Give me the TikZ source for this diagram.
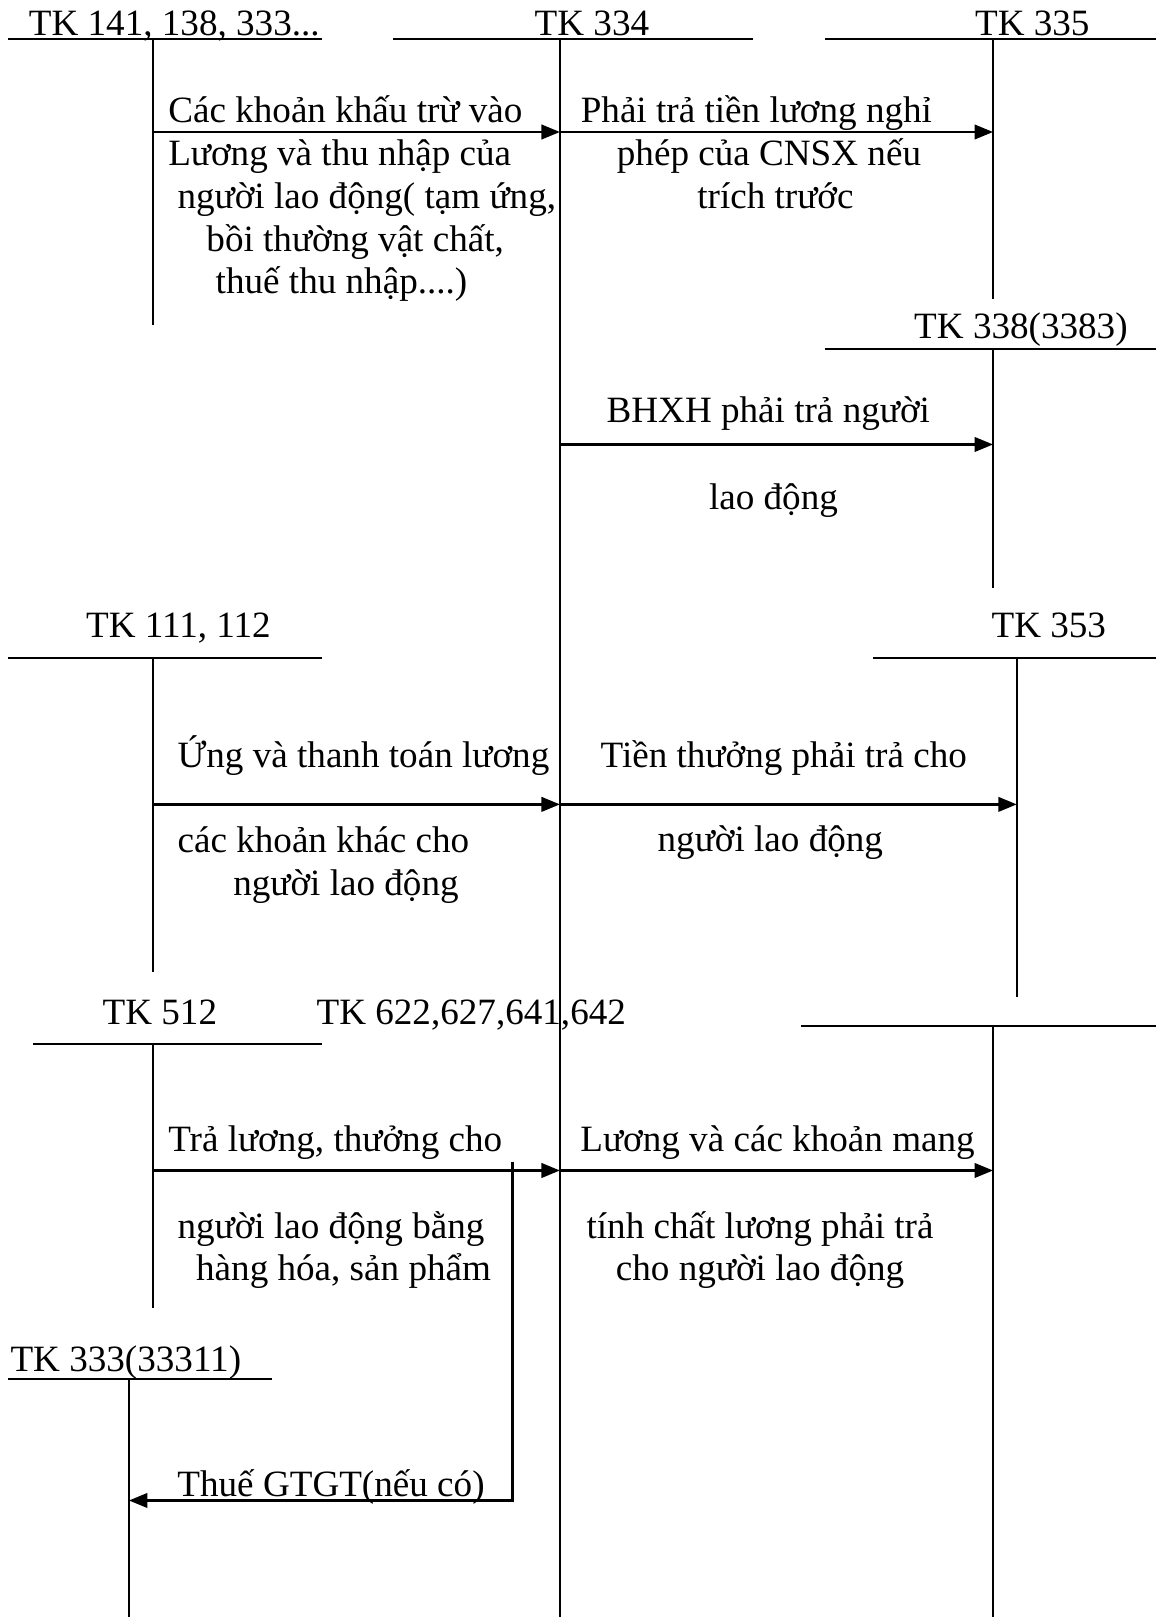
\documentclass[tikz,border=0pt]{standalone}
\usepackage{fontspec}
\setmainfont{Liberation Serif}
\usepackage{tikz}
\usetikzlibrary{arrows.meta, positioning}

\begin{document}
\begin{tikzpicture}[
        x=1pt, y=-1pt,
        every node/.style={font=\fontsize{36}{41.5}\selectfont, inner sep=0pt},
        acct/.style={anchor=base},
        lbl/.style={anchor=base west, align=left},
        lblc/.style={anchor=base, align=center},
        tline/.style={line width=1.9pt},
        arrowstyle/.style={-{Triangle[length=18pt, width=14pt]}, line width=2.6pt}
    ]
        \useasboundingbox (0,0) rectangle (1121,1568);

        % T-accounts
        \draw[tline] (8,38) -- (312,38) (148,38) coordinate (k141) -- (148,315);
        \draw[tline] (381,38) -- (730,38) (543,38) coordinate (k334) -- (543,1568);
        \draw[tline] (800,38) -- (1121,38) (963,38) coordinate (k335) -- (963,290);
        \draw[tline] (800,338) -- (1121,338) (963,338) coordinate (k338) -- (963,570);
        \draw[tline] (8,638) -- (312,638) (148,638) coordinate (k111) -- (148,943);
        \draw[tline] (847,638) -- (1121,638) (986,638) coordinate (k353) -- (986,967);
        \draw[tline] (32,1012) -- (312,1012) (148,1012) coordinate (k512) -- (148,1268);
        \draw[tline] (777,995) -- (1121,995) (963,995) coordinate (k622) -- (963,1568);
        \draw[tline] (8,1337) -- (264,1337) (125,1337) coordinate (k333) -- (125,1568);

        \node[acct] (h141) at (169,34) {TK 141, 138, 333...};
        \node[acct] (h334) at (574,34) {TK 334};
        \node[acct] (h335) at (1001,34) {TK 335};
        \node[acct] (h338) at (990,328) {TK 338(3383)};
        \node[acct] (h111) at (173,618) {TK 111, 112};
        \node[acct] (h353) at (1017,618) {TK 353};
        \node[acct] (h512) at (155,993) {TK 512};
        \node[acct] (h622) at (457,993) {TK 622,627,641,642};
        \node[acct] (h333) at (122,1330) {TK 333(33311)};

        % arrow rows
        \coordinate (r1) at (0,128);
        \coordinate (r2) at (0,431);
        \coordinate (r3) at (0,780);
        \coordinate (r4) at (0,1135);
        \coordinate (r5) at (0,1455);
        \coordinate (tx) at (497,1127);

        \draw[arrowstyle] (k141 |- r1) -- (k334 |- r1);
        \draw[arrowstyle] (k334 |- r1) -- (k335 |- r1);
        \draw[arrowstyle] (k334 |- r2) -- (k338 |- r2);
        \draw[arrowstyle] (k111 |- r3) -- (k334 |- r3);
        \draw[arrowstyle] (k334 |- r3) -- (k353 |- r3);
        \draw[arrowstyle] (k512 |- r4) -- (k334 |- r4);
        \draw[arrowstyle] (k334 |- r4) -- (k622 |- r4);
        \draw[arrowstyle] (tx) |- (k333 |- r5);

        \node[lbl] (d141) at (163,285) {Các khoản khấu trừ vào\\Lương và thu nhập của\\\hspace*{9pt}người lao động( tạm ứng,\\\hspace*{37pt}bồi thường vật chất,\\\hspace*{46pt}thuế thu nhập....)};
        \node[lbl] (d335) at (563,202) {Phải trả tiền lương nghỉ\\\hspace*{35pt}phép của CNSX nếu\\\hspace*{113pt}trích trước};
        \node[lblc] (d338a) at (745,410) {BHXH phải trả người};
        \node[lblc] (d338b) at (750,494) {lao động};
        \node[lbl] (d111a) at (172,744) {Ứng và thanh toán lương};
        \node[lbl] (d111b) at (172,868) {các khoản khác cho\\\hspace*{54pt}người lao động};
        \node[lblc] (d353a) at (760,744) {Tiền thưởng phải trả cho};
        \node[lblc] (d353b) at (747,826) {người lao động};
        \node[lbl] (d512a) at (163,1117) {Trả lương, thưởng cho};
        \node[lbl] (d512b) at (172,1242) {người lao động bằng\\\hspace*{18pt}hàng hóa, sản phẩm};
        \node[lblc] (d622a) at (754,1117) {Lương và các khoản mang};
        \node[lblc] (d622b) at (737,1242) {tính chất lương phải trả\\cho người lao động};
        \node[lblc] (d333) at (321,1451) {Thuế GTGT(nếu có)};
    \end{tikzpicture}
\end{document}
